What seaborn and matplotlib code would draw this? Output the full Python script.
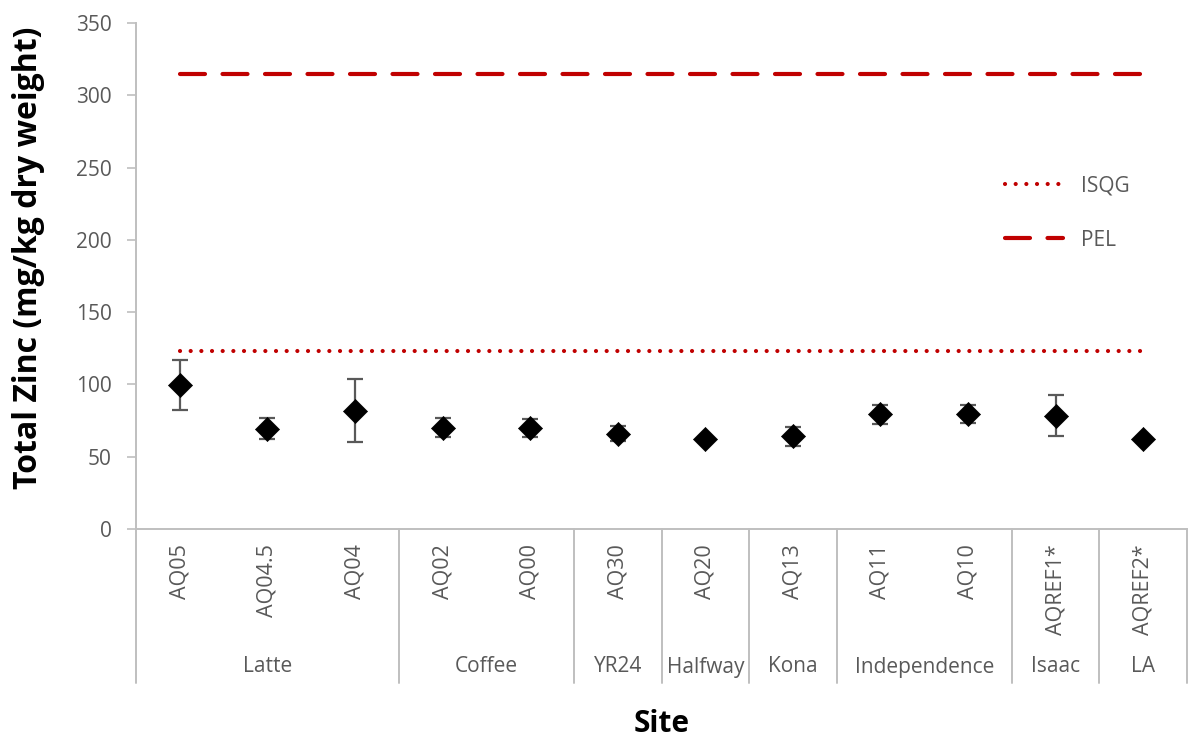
import numpy as np
import pandas as pd
import matplotlib
matplotlib.use("Agg")
import matplotlib.pyplot as plt
from matplotlib.lines import Line2D
import seaborn as sns

# Sampling sites and the creek each belongs to
sites = ["AQ05", "AQ04.5", "AQ04", "AQ02", "AQ00", "AQ30", "AQ20",
         "AQ13", "AQ11", "AQ10", "AQREF1*", "AQREF2*"]
groups = ["Latte", "Latte", "Latte", "Coffee", "Coffee", "YR24", "Halfway",
          "Kona", "Independence", "Independence", "Isaac", "LA"]

# Mean total zinc (mg/kg dry weight) and standard deviation per site
zinc_mean = [99.5, 69.5, 81.8, 70.2, 70.0, 66.0, 62.0, 64.0, 79.2, 79.8, 78.4, 62.0]
zinc_sd = [17.5, 7.0, 21.8, 6.8, 6.4, 5.2, 1.5, 6.5, 6.7, 6.2, 14.0, 1.5]

# Sediment quality guidelines
isqg_value = 123
pel_value = 315

yticks = [0, 50, 100, 150, 200, 250, 300, 350]

sns.set_style("white")
plt.rcParams["font.family"] = ["Open Sans", "DejaVu Sans"]

GREY_TEXT = "#595959"
AXIS_GREY = "#BFBFBF"
RED = "#C00000"

df = pd.DataFrame({"site": sites, "group": groups,
                   "zinc": zinc_mean, "sd": zinc_sd})
df["pos"] = np.arange(len(df))

fig = plt.figure(figsize=(11.88, 7.38), dpi=100)
ax = fig.add_axes([136 / 1188, 1 - 529 / 738, 1051 / 1188, (529 - 23) / 738])

# Guideline lines across all sites
ax.plot(df["pos"], [isqg_value] * len(df), color=RED, lw=3.0,
        linestyle=(0, (0.01, 2.55)), dash_capstyle="round", zorder=2)
ax.plot(df["pos"], [pel_value] * len(df), color=RED, lw=3.0,
        linestyle=(0, (6, 4.2)), dash_capstyle="round", zorder=2)

# Standard deviation bars
ax.errorbar(df["pos"], df["zinc"], yerr=df["sd"], fmt="none",
            ecolor=GREY_TEXT, elinewidth=1.6, capsize=5.5, capthick=1.6, zorder=3)

# Site means
sns.scatterplot(data=df, x="pos", y="zinc", marker="D", s=150,
                color="black", edgecolor="black", linewidth=0.5,
                ax=ax, zorder=4, legend=False)

ax.set_xlim(-0.5, len(df) - 0.5)
ax.set_ylim(0, 350)
ax.set_yticks(yticks)
ax.set_yticklabels([str(v) for v in yticks], color=GREY_TEXT, fontsize=15)
ax.set_xticks(df["pos"])
ax.set_xticklabels(sites, rotation=90, va="top", ha="center",
                   color=GREY_TEXT, fontsize=15.5)
ax.tick_params(axis="x", length=0, pad=11)
ax.tick_params(axis="y", length=6.5, width=1.2, color=AXIS_GREY, pad=11,
               direction="out", left=True)

for side in ["top", "right"]:
    ax.spines[side].set_visible(False)
for side in ["left", "bottom"]:
    ax.spines[side].set_color(AXIS_GREY)
    ax.spines[side].set_linewidth(1.4)

# Group separators and group labels below the site labels
trans = ax.get_xaxis_transform()
sep_bottom = -(683 - 529) / 506
bounds = [-0.5]
for i in range(1, len(groups)):
    if groups[i] != groups[i - 1]:
        bounds.append(i - 0.5)
bounds.append(len(groups) - 0.5)
for b in bounds:
    ax.plot([b, b], [0, sep_bottom], transform=trans, color=AXIS_GREY,
            lw=1.4, clip_on=False, zorder=1)

seen = []
for g in groups:
    if g not in seen:
        seen.append(g)
for g in seen:
    idx = [i for i, gg in enumerate(groups) if gg == g]
    center = (idx[0] + idx[-1]) / 2
    ax.text(center, -(667 - 529) / 506, g, transform=trans, ha="center",
            va="center", color=GREY_TEXT, fontsize=15)

ax.set_ylabel("Total Zinc (mg/kg dry weight)", fontsize=23, fontweight="bold",
              color="black")
ax.yaxis.set_label_coords(-0.087, 0.535)
ax.set_xlabel("Site", fontsize=21.5, fontweight="bold", color="black")
ax.xaxis.set_label_coords(0.5, -0.356)

handles = [
    Line2D([], [], color=RED, lw=3.0, linestyle=(0, (0.01, 2.55)), dash_capstyle="round"),
    Line2D([], [], color=RED, lw=3.0, linestyle=(0, (6, 4.2)), dash_capstyle="round"),
]
leg = ax.legend(handles, ["ISQG", "PEL"], loc="center left",
                bbox_to_anchor=(1005 / 1188, 1 - 213 / 738),
                bbox_transform=fig.transFigure, frameon=False,
                fontsize=15, handlelength=2.8, handletextpad=0.85,
                labelspacing=1.6, borderpad=0, borderaxespad=0)
for t in leg.get_texts():
    t.set_color(GREY_TEXT)

fig.savefig("out.png", dpi=100, facecolor="white")
